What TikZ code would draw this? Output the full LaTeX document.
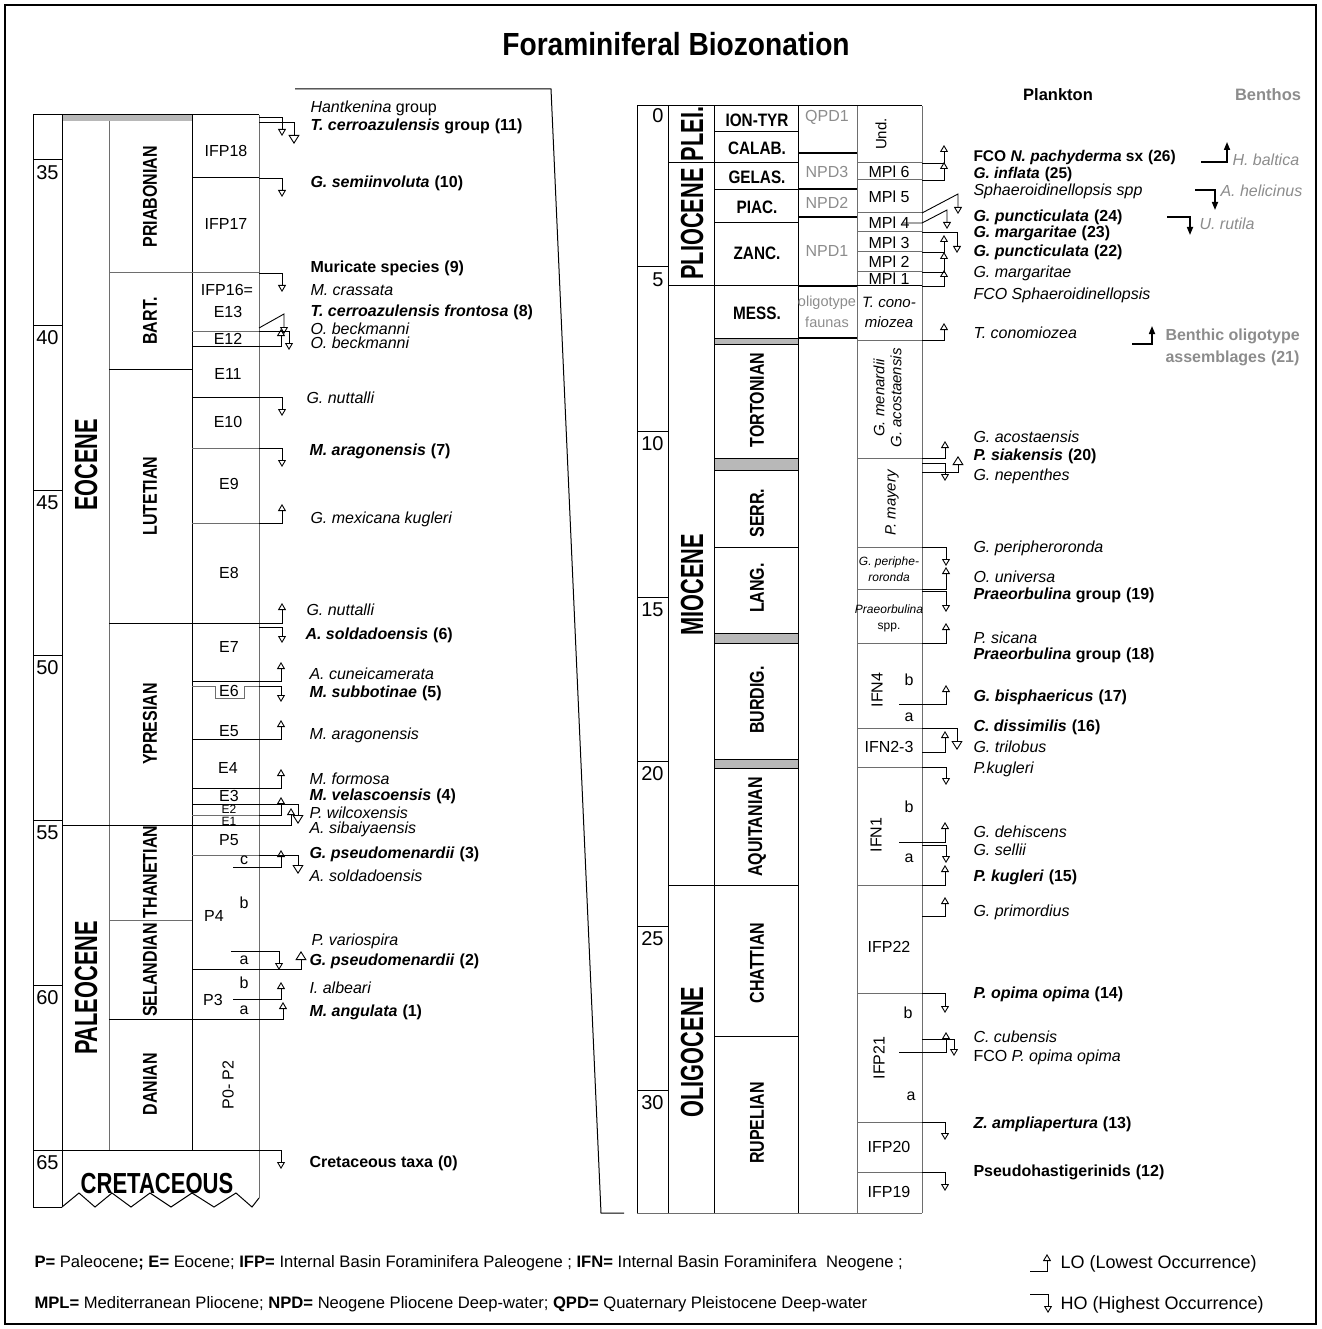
\documentclass[tikz,border=0pt]{standalone}
\usepackage{fontspec}
\setmainfont{Liberation Sans}
\usetikzlibrary{arrows.meta}
\definecolor{gtx}{HTML}{8C8C8C}
\definecolor{gbar}{HTML}{B8B8B8}
\definecolor{gln}{HTML}{6E6E6E}
\newcommand\fs[1]{\fontsize{#1}{#1}\selectfont}
\newcommand\cnd[2]{\scalebox{#1}[1]{#2}}
\newcommand\nsp{\hspace{5pt}}
\begin{document}
\begin{tikzpicture}[x=1pt,y=-1pt,line width=1pt,
  it/.style={anchor=west,inner sep=0pt,font=\fs{16}\itshape},
  bd/.style={anchor=west,inner sep=0pt,font=\fs{16}\bfseries},
  zn/.style={inner sep=0pt,font=\fs{16}},
  zs/.style={inner sep=0pt,font=\fs{15}},
  age/.style={anchor=east,inner sep=0pt,font=\fs{20}},
  ep/.style={inner sep=0pt,rotate=90,font=\fs{32}\bfseries},
  st/.style={inner sep=0pt,rotate=90,font=\fs{20}\bfseries},
  sth/.style={inner sep=0pt,font=\fs{18}\bfseries},
  npd/.style={inner sep=0pt,font=\fs{16},text=gtx},
  ev/.style={line width=0.9pt,-{Triangle[open,length=7pt,width=8pt]}},
  evb/.style={line width=0.9pt,-{Triangle[open,length=9pt,width=11pt]}},
  bn/.style={line width=1.6pt,-{Triangle[length=8pt,width=6pt]}},
  gl/.style={draw=gln},
  bar/.style={fill=gbar,draw=black,line width=0.8pt},
  thk/.style={line width=2.2pt}
]
\path[use as bounding box] (0,0) rectangle (1321,1329);
\draw[line width=1.4pt] (5,5) rectangle (1316,1324);
\node[font=\fs{32}\bfseries,inner sep=0pt] (title) at (676,44) {\cnd{0.88}{Foraminiferal Biozonation}};

% ================= LEFT COLUMN =================
\fill[gbar] (62,115) rectangle (192,121);
\draw (33,115) -- (259,115);
\draw (33,115) -- (33,1207) -- (62,1207);
\draw (62,115) -- (62,1207);
\draw[gl] (109,121) -- (109,1150);
\draw (192,115) -- (192,1150);
\draw[gl] (259,115) -- (259,1198);
\draw (62,1207) -- (79,1193) -- (95,1207) -- (112,1193) -- (131,1207) -- (150,1193) -- (171,1207) -- (192,1193) -- (214,1207) -- (236,1193) -- (252,1207) -- (259,1198);
% age ticks
\foreach \yy/\aa in {160/35,325/40,490/45,655/50,820/55,985/60}{
  \draw (33,\yy) -- (62,\yy);
  \node[age] (la\aa) at (59,\yy+13) {\aa};
}
\draw (33,1150) -- (259,1150);
\node[age] (la65) at (59,1163) {65};
% epoch / stage boundaries
\draw (62,825) -- (259,825);
\draw[gl] (109,273) -- (259,273);
\draw (109,369) -- (192,369);
\draw (109,623) -- (259,623);
\draw[gl] (109,920) -- (192,920);
\draw (109,1019) -- (259,1019);
% zone boundaries
\draw (192,178) -- (259,178);
\draw[gl] (192,331) -- (259,331);
\draw (192,346) -- (259,346);
\draw (192,397) -- (259,397);
\draw[gl] (192,448) -- (259,448);
\draw[gl] (192,523) -- (259,523);
\draw (192,681) -- (259,681);
\draw[gl] (192,686) -- (215,686) -- (215,698) -- (244,698) -- (244,686) -- (259,686);
\draw (192,739) -- (259,739);
\draw (192,788) -- (259,788);
\draw (192,804) -- (259,804);
\draw[gl] (192,815) -- (259,815);
\draw[gl] (192,855) -- (259,855);
\draw (233,867) -- (259,867);
\draw (231,951) -- (259,951);
\draw (192,969) -- (259,969);
\draw (233,999) -- (259,999);
% epoch labels
\node[ep] (eoc) at (86,465) {\cnd{0.68}{EOCENE}};
\node[ep] (pal) at (86,988) {\cnd{0.68}{PALEOCENE}};
\node[inner sep=0pt,font=\fs{29}\bfseries] (cre) at (157,1184) {\cnd{0.76}{CRETACEOUS}};
% stage labels
\node[st] (s1) at (150,197) {\cnd{0.8}{PRIABONIAN}};
\node[st] (s2) at (150,321) {\cnd{0.8}{BART.}};
\node[st] (s3) at (150,496) {\cnd{0.8}{LUTETIAN}};
\node[st] (s4) at (150,724) {\cnd{0.8}{YPRESIAN}};
\node[st] (s5) at (150,872) {\cnd{0.8}{THANETIAN}};
\node[st] (s6) at (150,970) {\cnd{0.8}{SELANDIAN}};
\node[st] (s7) at (150,1084) {\cnd{0.8}{DANIAN}};
% zone labels
\node[zn] (z1) at (226,151) {IFP18};
\node[zn] (z2) at (226,224) {IFP17};
\node[zn] (z3) at (227,290) {IFP16=};
\node[zn] (z4) at (228,312) {E13};
\node[zn] (z5) at (228,339) {E12};
\node[zn] (z6) at (228,374) {E11};
\node[zn] (z7) at (228,422) {E10};
\node[zn] (z8) at (229,484) {E9};
\node[zn] (z9) at (229,573) {E8};
\node[zn] (z10) at (229,647) {E7};
\node[zn] (z11) at (229,691) {E6};
\node[zn] (z12) at (229,731) {E5};
\node[zn] (z13) at (228,768) {E4};
\node[zn] (z14) at (229,796) {E3};
\node[zn,font=\fs{12}] (z15) at (229,809) {E2};
\node[zn,font=\fs{12}] (z16) at (229,821) {E1};
\node[zn] (z17) at (229,840) {P5};
\node[zn] (z18) at (244,860) {c};
\node[zn] (z19) at (244,903) {b};
\node[zn] (z20) at (214,916) {P4};
\node[zn] (z21) at (244,960) {a};
\node[zn] (z22) at (244,983) {b};
\node[zn] (z23) at (213,1000) {P3};
\node[zn] (z24) at (244,1010) {a};
\node[zn,rotate=90] (z25) at (228,1085) {P0- P2};
% left events
\draw[ev] (259,117) -| (282,136);
\draw[evb] (259,122) -| (294,144);
\draw[ev] (259,178) -| (282,197);
\draw[ev] (259,273) -| (282,292);
\draw[ev] (259,328) -- (284,314) -- (284,334);
\draw[ev] (259,346) -| (281,329);
\draw[ev] (259,331) -| (289,350);
\draw[ev] (259,397) -| (282,416);
\draw[ev] (259,448) -| (282,467);
\draw[ev] (259,523) -| (282,504);
\draw[ev] (259,623) -| (282,603);
\draw[ev] (259,627) -| (282,643);
\draw[ev] (259,681) -| (281,662);
\draw[ev] (259,686) -| (281,702);
\draw[ev] (259,739) -| (281,720);
\draw[ev] (259,788) -| (281,769);
\draw[ev] (259,815) -| (281,797);
\draw[evb] (259,804) -| (298,824);
\draw[ev] (259,825) -| (291,808);
\draw[ev] (259,867) -| (281,850);
\draw[evb] (259,855) -| (298,874);
\draw[ev] (259,951) -| (279,970);
\draw[evb] (259,969) -| (301,951);
\draw[ev] (259,999) -| (281,982);
\draw[ev] (259,1019) -| (283,1002);
\draw[ev] (259,1150) -| (281,1169);
% left labels
\node[it] (t0) at (310,108) {Hantkenina {\upshape group}};
\node[bd] (t1) at (310,126) {\textit{T. cerroazulensis} group\nsp(11)};
\node[bd] (t2) at (310,183) {\textit{G. semiinvoluta}\nsp(10)};
\node[bd] (t3) at (310,268) {Muricate species\nsp(9)};
\node[it] (t4) at (310,290) {M. crassata};
\node[bd] (t5) at (310,312) {\textit{T. cerroazulensis frontosa}\nsp(8)};
\node[it] (t6) at (310,329) {O. beckmanni};
\node[it] (t7) at (310,343) {O. beckmanni};
\node[it] (t8) at (306,398) {G. nuttalli};
\node[bd] (t9) at (309,451) {\textit{M. aragonensis}\nsp(7)};
\node[it] (t10) at (310,519) {G. mexicana kugleri};
\node[it] (t11) at (306,610) {G. nuttalli};
\node[bd] (t12) at (305,635) {\textit{A. soldadoensis}\nsp(6)};
\node[it] (t13) at (309,674) {A. cuneicamerata};
\node[bd] (t14) at (309,693) {\textit{M. subbotinae}\nsp(5)};
\node[it] (t15) at (309,735) {M. aragonensis};
\node[it] (t16) at (309,779) {M. formosa};
\node[bd] (t17) at (309,796) {\textit{M. velascoensis}\nsp(4)};
\node[it] (t18) at (309,813) {P. wilcoxensis};
\node[it] (t19) at (309,829) {A. sibaiyaensis};
\node[bd] (t20) at (309,854) {\textit{G. pseudomenardii}\nsp(3)};
\node[it] (t21) at (309,876) {A. soldadoensis};
\node[it] (t22) at (311,941) {P. variospira};
\node[bd] (t23) at (309,961) {\textit{G. pseudomenardii}\nsp(2)};
\node[it] (t24) at (309,988) {I. albeari};
\node[bd] (t25) at (309,1012) {\textit{M. angulata}\nsp(1)};
\node[bd] (t26) at (309,1163) {Cretaceous taxa\nsp(0)};

% tie line
\coordinate (ta) at (295,89);
\coordinate (tb) at (551,89);
\coordinate (tc) at (601,1213);
\coordinate (td) at (624,1213);
\draw (ta) -- (tb) -- (tc) -- (td);

% ================= RIGHT COLUMN =================
\draw (637,106) -- (922,106);
\draw (637,106) -- (637,1213);
\draw (668,106) -- (668,1213);
\draw (714,106) -- (714,1213);
\draw (798,106) -- (798,1213);
\draw[gl] (857,106) -- (857,1213);
\draw[gl] (922,106) -- (922,1213);
\draw[gl] (637,1213) -- (922,1213);
\foreach \yy/\aa in {267/5,431/10,597/15,761/20,926/25,1090/30}{
  \draw (637,\yy) -- (668,\yy);
  \node[age] (ra\aa) at (664,\yy+13) {\aa};
}
\node[age] (ra0) at (664,116) {0};
% epoch lines
\draw (668,163) -- (798,163);
\draw (668,286) -- (922,286);
\draw (668,885) -- (798,885);
% stage lines
\draw (714,132) -- (798,132);
\draw (714,190) -- (798,190);
\draw (714,223) -- (798,223);
\draw[bar] (714,338) rectangle (798,344);
\draw[bar] (714,458) rectangle (798,470);
\draw (714,547) -- (798,547);
\draw[bar] (714,633) rectangle (798,643);
\draw[bar] (714,759) rectangle (798,768);
\draw (714,1036) -- (798,1036);
% NPD lines
\foreach \yy in {153,189,217,286,338}{\draw[thk] (798,\yy) -- (857,\yy);}
% zone lines
\foreach \yy in {163,180,213,232,252,272,340,458,547,589,643,728,767,885,993,1122,1172}{\draw[gl] (857,\yy) -- (922,\yy);}
\draw (899,704) -- (922,704);
\draw (899,842) -- (922,842);
\draw (899,1052) -- (922,1052);
% epoch labels right
\node[ep] (e1) at (692,134) {\cnd{0.68}{PLEI.}};
\node[ep] (e2) at (692,224) {\cnd{0.68}{PLIOCENE}};
\node[ep] (e3) at (692,585) {\cnd{0.68}{MIOCENE}};
\node[ep] (e4) at (692,1052) {\cnd{0.68}{OLIGOCENE}};
% stage labels right
\node[sth] (r1) at (757,120) {\cnd{0.85}{ION-TYR}};
\node[sth] (r2) at (757,148) {\cnd{0.85}{CALAB.}};
\node[sth] (r3) at (757,177) {\cnd{0.85}{GELAS.}};
\node[sth] (r4) at (757,207) {\cnd{0.85}{PIAC.}};
\node[sth] (r5) at (757,253) {\cnd{0.85}{ZANC.}};
\node[sth] (r6) at (757,313) {\cnd{0.85}{MESS.}};
\node[st] (r7) at (757,400) {\cnd{0.8}{TORTONIAN}};
\node[st] (r8) at (757,513) {\cnd{0.8}{SERR.}};
\node[st] (r9) at (757,588) {\cnd{0.8}{LANG.}};
\node[st] (r10) at (757,700) {\cnd{0.8}{BURDIG.}};
\node[st] (r11) at (757,827) {\cnd{0.8}{AQUITANIAN}};
\node[st] (r12) at (757,963) {\cnd{0.8}{CHATTIAN}};
\node[st] (r13) at (757,1123) {\cnd{0.8}{RUPELIAN}};
% NPD labels
\node[npd] (n1) at (827,117) {QPD1};
\node[npd] (n2) at (827,172) {NPD3};
\node[npd] (n3) at (827,203) {NPD2};
\node[npd] (n4) at (827,251) {NPD1};
\node[npd,font=\fs{14.5}] (n5) at (827,303) {oligotype};
\node[npd,font=\fs{14.5}] (n6) at (827,322) {faunas};
% zone labels right
\node[zs,rotate=90] (y1) at (881,134) {Und.};
\node[zn] (y2) at (889,172) {MPl 6};
\node[zn] (y3) at (889,197) {MPl 5};
\node[zn] (y4) at (889,223) {MPl 4};
\node[zn] (y5) at (889,243) {MPl 3};
\node[zn] (y6) at (889,262) {MPl 2};
\node[zn] (y7) at (889,279) {MPl 1};
\node[zs,font=\fs{15}\itshape] (y8) at (889,302) {T. cono-};
\node[zs,font=\fs{15}\itshape] (y9) at (889,322) {miozea};
\node[zs,rotate=90,font=\fs{15}\itshape] (y10) at (879,398) {G. menardii};
\node[zs,rotate=90,font=\fs{15}\itshape] (y11) at (896,398) {G. acostaensis};
\node[zs,rotate=90,font=\fs{15}\itshape] (y12) at (892,503) {P. mayery};
\node[zs,font=\fs{12}\itshape] (y13) at (889,562) {G. periphe-};
\node[zs,font=\fs{12}\itshape] (y14) at (889,577) {roronda};
\node[zs,font=\fs{12}\itshape] (y15) at (889,609) {Praeorbulina};
\node[zs,font=\fs{12}] (y16) at (889,628) {spp.};
\node[zn,rotate=90] (y17) at (877,690) {IFN4};
\node[zn] (y18) at (909,680) {b};
\node[zn] (y19) at (909,717) {a};
\node[zn] (y20) at (889,747) {IFN2-3};
\node[zn,rotate=90] (y21) at (876,835) {IFN1};
\node[zn] (y22) at (909,807) {b};
\node[zn] (y23) at (909,858) {a};
\node[zn] (y24) at (889,947) {IFP22};
\node[zn,rotate=90] (y25) at (879,1058) {IFP21};
\node[zn] (y26) at (908,1013) {b};
\node[zn] (y27) at (911,1096) {a};
\node[zn] (y28) at (889,1147) {IFP20};
\node[zn] (y29) at (889,1192) {IFP19};
% right events
\draw[ev] (922,163) -| (944,145);
\draw[ev] (922,180) -| (944,162);
\draw[ev] (922,213) -- (958,194) -- (958,214);
\draw[ev] (903,223) -- (922,223) -- (947,210) -- (947,229);
\draw[ev] (922,232) -| (957,253);
\draw[ev] (922,252) -| (944,235);
\draw[ev] (922,272) -| (944,252);
\draw[ev] (922,286) -| (944,270);
\draw[ev] (922,340) -| (944,323);
\draw[ev] (922,458) -| (945,441);
\draw[ev] (922,463) -| (945,481);
\draw[evb] (922,472) -| (958,456);
\draw[ev] (922,547) -| (946,566);
\draw[ev] (922,589) -| (946,567);
\draw[ev] (922,591) -| (946,612);
\draw[ev] (922,643) -| (946,623);
\draw[ev] (922,704) -| (946,685);
\draw[evb] (922,728) -| (957,750);
\draw[ev] (922,752) -| (945,731);
\draw[ev] (922,767) -| (946,785);
\draw[ev] (922,842) -| (945,822);
\draw[ev] (922,845) -| (946,863);
\draw[ev] (922,885) -| (945,865);
\draw[ev] (922,916) -| (945,897);
\draw[ev] (922,993) -| (945,1013);
\draw[ev] (922,1039) -| (954,1056);
\draw[ev] (922,1052) -| (946,1032);
\draw[ev] (922,1122) -| (945,1140);
\draw[ev] (922,1172) -| (945,1191);
% right labels
\node[bd,anchor=center,font=\fs{16.5}\bfseries] (hp) at (1058,95) {Plankton};
\node[bd,anchor=center,font=\fs{16.5}\bfseries,text=gtx] (hb) at (1268,95) {Benthos};
\node[bd,font=\fs{15.5}\bfseries] (u1) at (973,157) {FCO \textit{N. pachyderma} sx\nsp(26)};
\node[bd,font=\fs{15.5}\bfseries] (u2) at (973,174) {\textit{G. inflata}\nsp(25)};
\node[it] (u3) at (973,191) {Sphaeroidinellopsis spp};
\node[bd] (u4) at (973,217) {\textit{G. puncticulata}\nsp(24)};
\node[bd] (u5) at (973,233) {\textit{G. margaritae}\nsp(23)};
\node[bd] (u6) at (973,252) {\textit{G. puncticulata}\nsp(22)};
\node[it] (u7) at (973,273) {G. margaritae};
\node[it] (u8) at (973,295) {FCO Sphaeroidinellopsis};
\node[it] (u9) at (973,333) {T. conomiozea};
\node[it] (u10) at (973,437) {G. acostaensis};
\node[bd] (u11) at (973,456) {\textit{P. siakensis}\nsp(20)};
\node[it] (u12) at (973,476) {G. nepenthes};
\node[it] (u13) at (973,548) {G. peripheroronda};
\node[it] (u14) at (973,577) {O. universa};
\node[bd] (u15) at (973,595) {\textit{Praeorbulina} group\nsp(19)};
\node[it] (u16) at (973,638) {P. sicana};
\node[bd] (u17) at (973,655) {\textit{Praeorbulina} group\nsp(18)};
\node[bd] (u18) at (973,697) {\textit{G. bisphaericus}\nsp(17)};
\node[bd] (u19) at (973,727) {\textit{C. dissimilis}\nsp(16)};
\node[it] (u20) at (973,747) {G. trilobus};
\node[it] (u21) at (973,769) {P.kugleri};
\node[it] (u22) at (973,832) {G. dehiscens};
\node[it] (u23) at (973,850) {G. sellii};
\node[bd] (u24) at (973,877) {\textit{P. kugleri}\nsp(15)};
\node[it] (u25) at (973,912) {G. primordius};
\node[bd] (u26) at (973,994) {\textit{P. opima opima}\nsp(14)};
\node[it] (u27) at (973,1037) {C. cubensis};
\node[it] (u28) at (973,1057) {{\upshape FCO} P. opima opima};
\node[bd] (u29) at (973,1124) {\textit{Z. ampliapertura}\nsp(13)};
\node[bd] (u30) at (973,1172) {Pseudohastigerinids\nsp(12)};
% benthos
\draw[bn] (1201,162) -| (1227,142);
\node[it,text=gtx] (b1) at (1232,160) {H. baltica};
\draw[bn] (1195,190) -| (1215,210);
\node[it,text=gtx] (b2) at (1220,191) {A. helicinus};
\draw[bn] (1167,217) -| (1190,235);
\node[it,text=gtx] (b3) at (1199,224) {U. rutila};
\draw[bn] (1132,344) -| (1152,326);
\node[bd,text=gtx] (b4) at (1165,336) {Benthic oligotype};
\node[bd,text=gtx] (b5) at (1165,358) {assemblages\nsp(21)};

% ================= LEGEND =================
\node[anchor=west,inner sep=0pt,font=\fs{16.6}] (g1) at (34,1263) {\textbf{P=} Paleocene\textbf{; E=} Eocene; \textbf{IFP=} Internal Basin Foraminifera Paleogene ; \textbf{IFN=} Internal Basin Foraminifera\ \ Neogene ;};
\node[anchor=west,inner sep=0pt,font=\fs{16.6}] (g2) at (34,1304) {\textbf{MPL=} Mediterranean Pliocene; \textbf{NPD=} Neogene Pliocene Deep-water; \textbf{QPD=} Quaternary Pleistocene Deep-water};
\draw[ev] (1030,1271) -| (1047,1254);
\node[anchor=west,inner sep=0pt,font=\fs{18}] (g3) at (1060,1264) {LO (Lowest Occurrence)};
\draw[ev] (1030,1294) -| (1048,1313);
\node[anchor=west,inner sep=0pt,font=\fs{18}] (g4) at (1060,1305) {HO (Highest Occurrence)};
\end{tikzpicture}
\end{document}
